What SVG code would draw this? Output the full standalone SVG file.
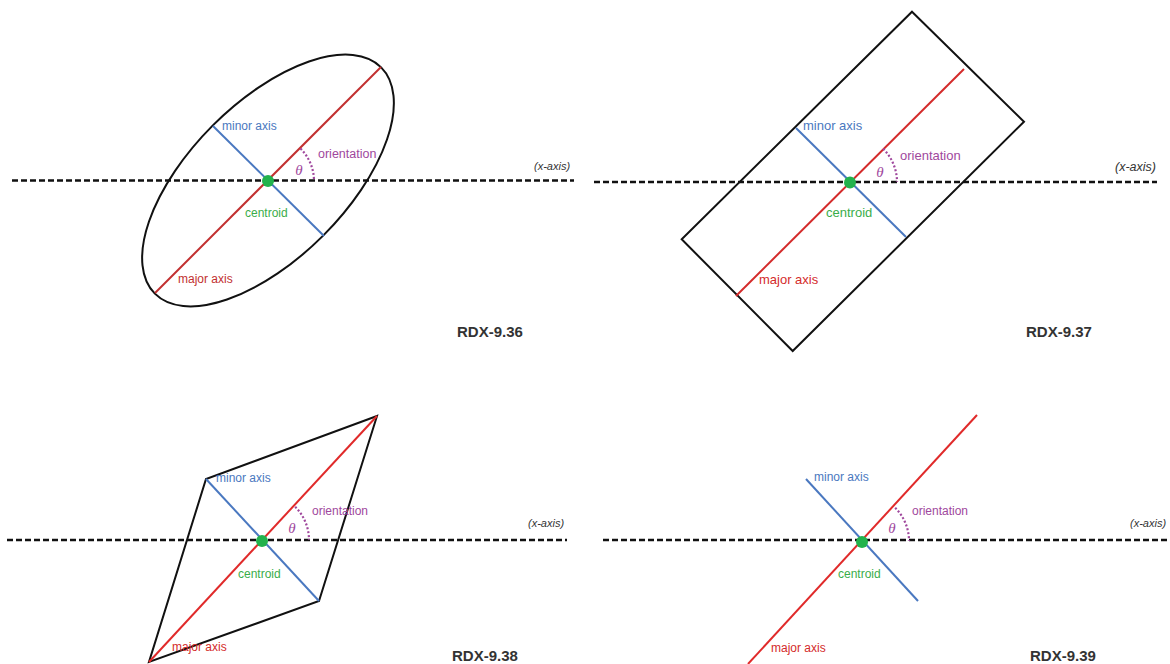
<svg xmlns="http://www.w3.org/2000/svg" width="1170" height="664" viewBox="0 0 1170 664">
<style>
.axis{stroke:#111;stroke-width:2.5;stroke-dasharray:6 3;fill:none}
.shape{stroke:#111;stroke-width:2;fill:none}
.major{stroke:#d42b2b;stroke-width:2;fill:none}
.minor{stroke:#4a78c0;stroke-width:2;fill:none}
.arc{stroke:#a0489d;stroke-width:2.2;stroke-dasharray:2 2;fill:none}
.dot{fill:#22b24c}
.t{font-family:"Liberation Sans",Arial,sans-serif;font-size:12px}
.t13{font-size:13px}
.tmin{fill:#4a78c0}
.tmaj{fill:#d42b2b}
.tcen{fill:#3aad4a}
.tori{fill:#a0489d}
.th{font-family:"Liberation Serif","DejaVu Serif",serif;font-style:italic;font-size:15px;fill:#a0489d;text-anchor:middle}
.xax{font-family:"Liberation Sans",Arial,sans-serif;font-style:italic;font-size:11px;fill:#333}
.rdx{font-family:"Liberation Sans",Arial,sans-serif;font-weight:bold;font-size:15px;fill:#333}
</style>
<rect width="1170" height="664" fill="#fff"/>

<g id="connectors">
<line class="axis" x1="12" y1="180.5" x2="574" y2="180.5"/>
<line class="axis" x1="594" y1="182" x2="1157" y2="182"/>
<line class="axis" x1="7" y1="540" x2="567" y2="540"/>
<line class="axis" x1="603" y1="540" x2="1170" y2="540"/>
</g>

<g id="panel-936">
<ellipse class="shape" cx="268" cy="180.5" rx="160" ry="78" transform="rotate(-45 268 180.5)"/>
<line class="major" x1="155" y1="293" x2="381" y2="67" style="stroke:#c23030"/>
<line class="minor" x1="213" y1="126" x2="324" y2="236"/>
<path class="arc" d="M300.5 148.5 A46 46 0 0 1 314 180.5"/>
<circle class="dot" cx="268" cy="181" r="6"/>
<text class="t tmin" x="222" y="130">minor axis</text>
<text class="t tori" x="318" y="158" style="font-size:12.5px">orientation</text>
<text class="th" x="299" y="175">θ</text>
<text class="t tcen" x="245" y="217">centroid</text>
<text class="t tmaj" x="178" y="283" style="fill:#c23030">major axis</text>
<text class="xax" x="534" y="170">(x-axis)</text>
<text class="rdx" x="457" y="337">RDX-9.36</text>
</g>

<g id="panel-937">
<polygon class="shape" points="912,11.7 1024,121.7 792.7,351 681.7,239.3"/>
<line class="major" x1="964" y1="69" x2="736" y2="296"/>
<line class="minor" x1="796" y1="128" x2="906" y2="237"/>
<path class="arc" d="M883.2 148.8 A47 47 0 0 1 897 182"/>
<circle class="dot" cx="850" cy="182.5" r="6"/>
<text class="t t13 tmin" x="803" y="129.5">minor axis</text>
<text class="t t13 tori" x="900" y="160">orientation</text>
<text class="th" x="880" y="177">θ</text>
<text class="t t13 tcen" x="826" y="217">centroid</text>
<text class="t t13 tmaj" x="759" y="284">major axis</text>
<text class="xax" x="1115" y="171" style="font-size:12.5px">(x-axis)</text>
<text class="rdx" x="1026" y="337">RDX-9.37</text>
</g>

<g id="panel-938">
<polygon class="shape" points="377,416 206,479 149,662 319,601"/>
<line class="major" x1="377" y1="416" x2="149" y2="662" style="stroke:#e02a2a"/>
<line class="minor" x1="206" y1="479" x2="319" y2="601"/>
<path class="arc" d="M295.2 506.8 A47 47 0 0 1 309 540"/>
<circle class="dot" cx="262" cy="541" r="6"/>
<text class="t tmin" x="216" y="481.5">minor axis</text>
<text class="t tori" x="312" y="515">orientation</text>
<text class="th" x="292" y="533">θ</text>
<text class="t tcen" x="238" y="578">centroid</text>
<text class="t tmaj" x="172" y="651">major axis</text>
<text class="xax" x="528" y="527">(x-axis)</text>
<text class="rdx" x="452" y="661">RDX-9.38</text>
</g>

<g id="panel-939">
<line class="major" x1="977" y1="415" x2="748" y2="664" style="stroke:#e02a2a"/>
<line class="minor" x1="806" y1="479" x2="918" y2="601"/>
<path class="arc" d="M895.2 507.8 A47 47 0 0 1 909 541"/>
<circle class="dot" cx="862" cy="542" r="6"/>
<text class="t tmin" x="814" y="481">minor axis</text>
<text class="t tori" x="912" y="515">orientation</text>
<text class="th" x="892" y="533">θ</text>
<text class="t tcen" x="838" y="578">centroid</text>
<text class="t tmaj" x="771" y="652">major axis</text>
<text class="xax" x="1130" y="527">(x-axis)</text>
<text class="rdx" x="1030" y="661">RDX-9.39</text>
</g>
</svg>
